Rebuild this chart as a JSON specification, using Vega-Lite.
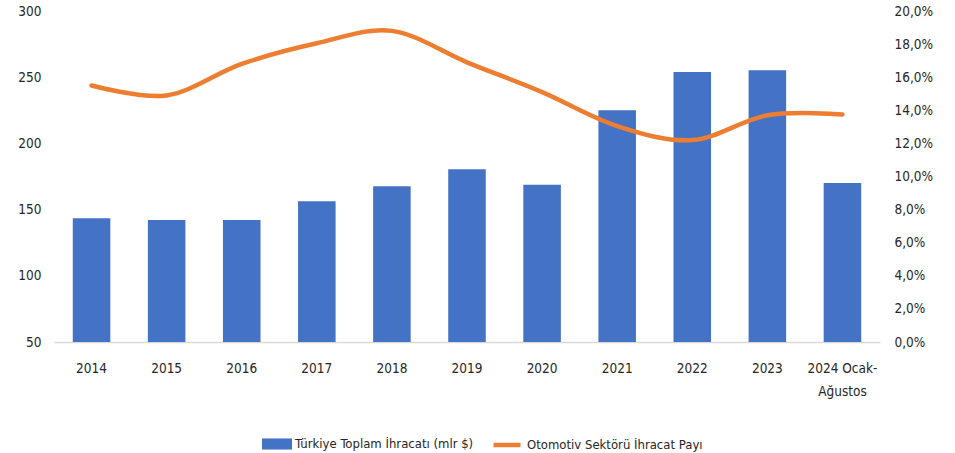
{
  "$schema": "https://vega.github.io/schema/vega-lite/v6.json",
  "width": 826,
  "height": 331,
  "autosize": "none",
  "padding": {"left": 54, "top": 11, "right": 75, "bottom": 111},
  "background": "white",
  "config": {
    "view": {"stroke": null},
    "font": "'DejaVu Sans Condensed', 'Liberation Sans', sans-serif",
    "axis": {"labelFont": "'DejaVu Sans Condensed', 'Liberation Sans', sans-serif", "labelFontSize": 13.5, "labelColor": "#262626", "grid": false, "ticks": false, "title": null},
    "legend": {"labelFont": "'DejaVu Sans Condensed', 'Liberation Sans', sans-serif", "labelFontSize": 13, "labelColor": "#262626", "labelLimit": 400}
  },
  "data": {
    "values": [
      {"year": "2014", "export": 143.4, "share": 15.5},
      {"year": "2015", "export": 142.1, "share": 14.9},
      {"year": "2016", "export": 142.1, "share": 16.8},
      {"year": "2017", "export": 156.3, "share": 18.05},
      {"year": "2018", "export": 167.6, "share": 18.8},
      {"year": "2019", "export": 180.4, "share": 16.9},
      {"year": "2020", "export": 168.8, "share": 15.1},
      {"year": "2021", "export": 225.0, "share": 13.05},
      {"year": "2022", "export": 253.9, "share": 12.2},
      {"year": "2023", "export": 255.2, "share": 13.7},
      {"year": "2024 Ocak-Ağustos", "export": 170.1, "share": 13.75}
    ]
  },
  "encoding": {
    "x": {
      "field": "year",
      "type": "nominal",
      "sort": null,
      "scale": {"paddingInner": 0.5, "paddingOuter": 0.25},
      "axis": {
        "labelAngle": 0,
        "domainColor": "#D9D9D9",
        "domainWidth": 1.5,
        "labelPadding": 19,
        "labelLineHeight": 23,
        "labelExpr": "datum.label == '2024 Ocak-Ağustos' ? ['2024 Ocak-', 'Ağustos'] : datum.label"
      }
    }
  },
  "layer": [
    {
      "mark": {"type": "bar", "color": "#4472C4"},
      "encoding": {
        "y": {
          "field": "export",
          "type": "quantitative",
          "scale": {"domain": [50, 300], "zero": false, "nice": false},
          "axis": {"orient": "left", "values": [50, 100, 150, 200, 250, 300], "domain": false, "labelPadding": 13}
        },
        "y2": {"datum": 50},
        "color": {
          "datum": "Türkiye Toplam İhracatı (mlr $)",
          "scale": {"range": ["#4472C4"]},
          "legend": {
            "title": null,
            "orient": "none",
            "legendX": 208,
            "legendY": 418,
            "symbolType": "M-1,-0.37H1V0.37H-1Z",
            "symbolSize": 900,
            "symbolStrokeWidth": 0,
            "labelOffset": 3
          }
        }
      }
    },
    {
      "mark": {"type": "line", "color": "#ED7D31", "strokeWidth": 4.5, "strokeCap": "round", "interpolate": "cardinal"},
      "encoding": {
        "y": {
          "field": "share",
          "type": "quantitative",
          "scale": {"domain": [0, 20], "nice": false},
          "axis": {
            "orient": "right",
            "values": [0, 2, 4, 6, 8, 10, 12, 14, 16, 18, 20],
            "domain": false,
            "labelPadding": 14,
            "labelExpr": "replace(format(datum.value, '.1f'), '.', ',') + '%'"
          }
        },
        "color": {
          "datum": "Otomotiv Sektörü İhracat Payı",
          "scale": {"range": ["#ED7D31"]},
          "legend": {
            "title": null,
            "orient": "none",
            "legendX": 437,
            "legendY": 418,
            "symbolType": "stroke",
            "symbolSize": 729,
            "symbolStrokeWidth": 4.5,
            "labelOffset": 4
          }
        }
      }
    }
  ],
  "resolve": {"scale": {"y": "independent", "color": "independent"}, "legend": {"color": "independent"}}
}
